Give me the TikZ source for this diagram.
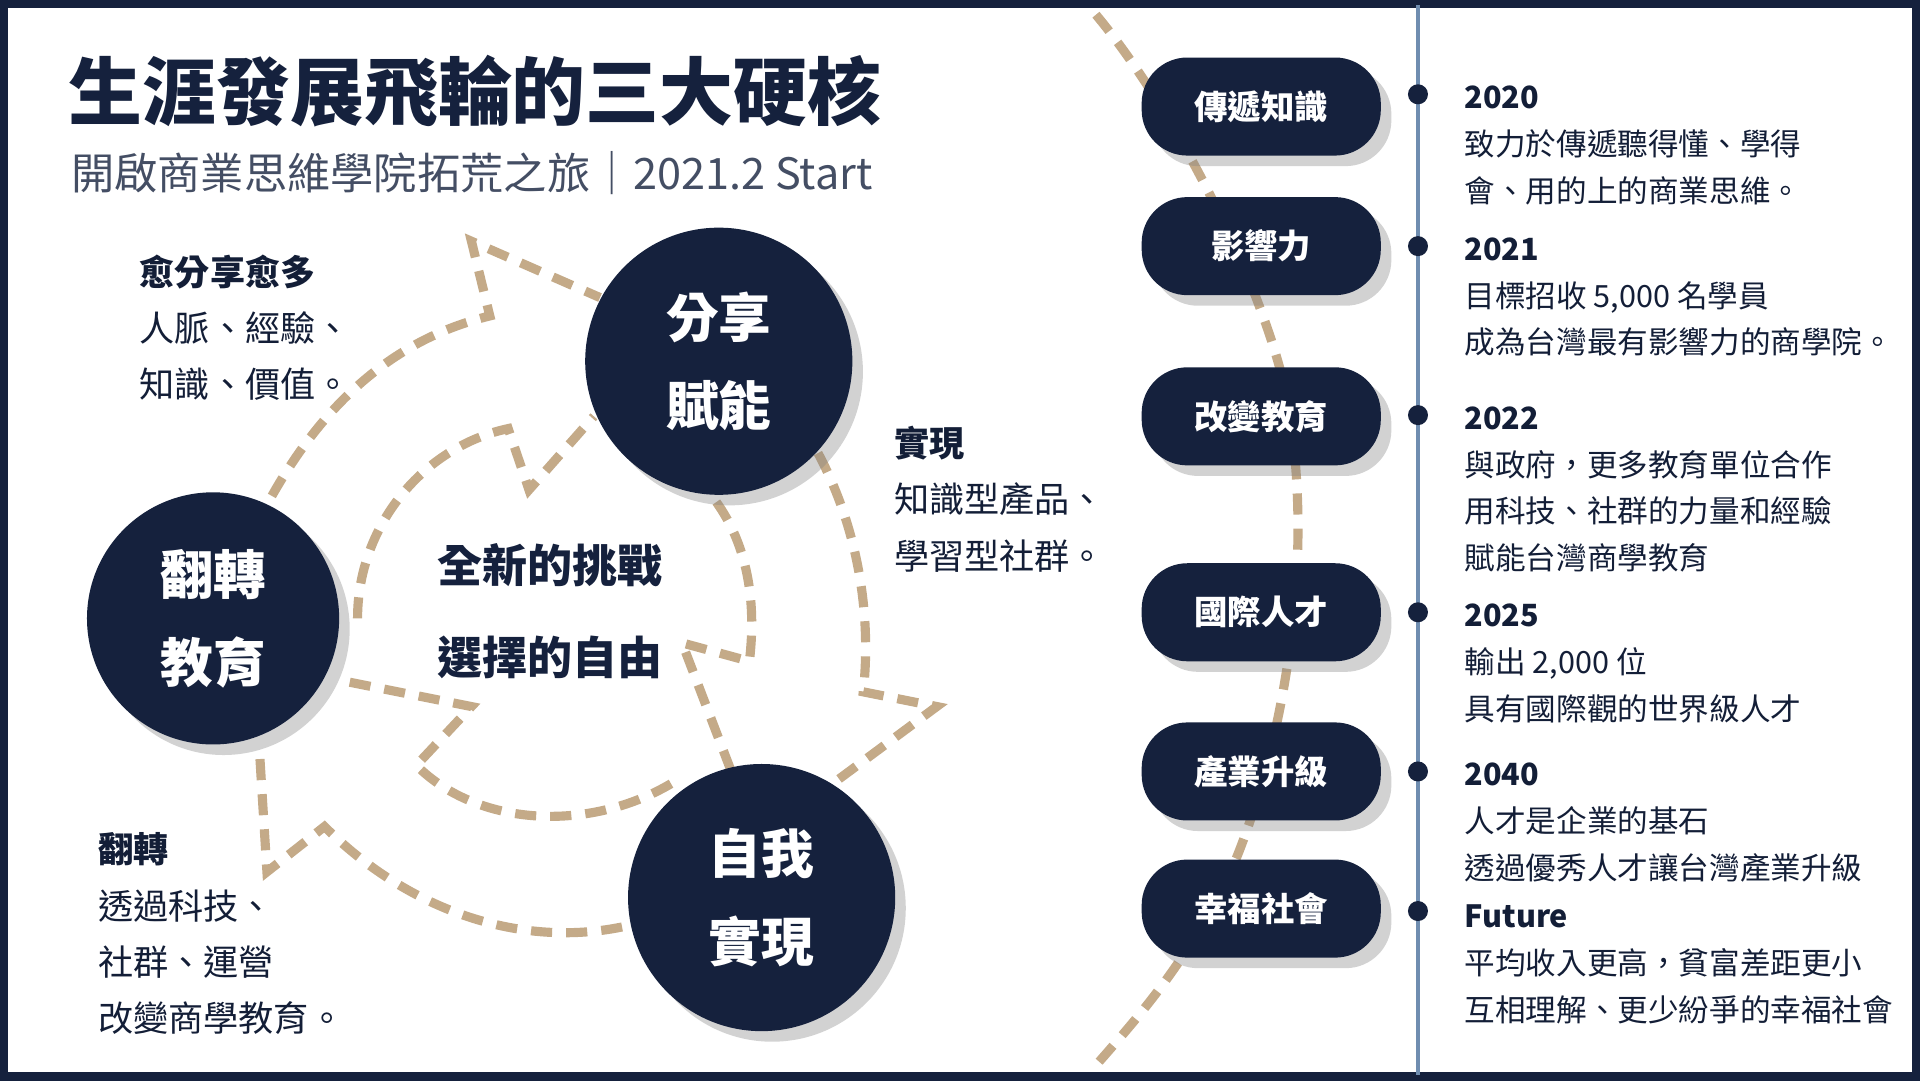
\documentclass[tikz,border=0pt]{standalone}
\usepackage{fontspec}
\setmainfont{Noto Sans CJK TC}
\usetikzlibrary{shadows}
\definecolor{navy}{HTML}{15213D}
\definecolor{tan}{HTML}{C4AA88}
\definecolor{rule}{HTML}{6F8DB0}
\begin{document}
\begin{tikzpicture}[x=0.012245cm, y=-0.012245cm,
    core/.style={circle, fill=navy, draw=none, minimum size=2.67cm, inner sep=0pt, text=white, align=center, font=\fontsize{15}{25}\selectfont\bfseries, drop shadow={opacity=0.35, shadow xshift=3pt, shadow yshift=-3pt}},
    pill/.style={rounded corners=13pt, fill=navy, minimum width=2.39cm, minimum height=0.98cm, text=white, font=\fontsize{9.5}{11}\selectfont\bfseries, drop shadow={opacity=0.35, shadow xshift=3pt, shadow yshift=-3pt}},
    dot/.style={circle, fill=navy, inner sep=0pt, minimum size=0.2cm},
    flow/.style={tan, line width=2.6pt, dash pattern=on 6pt off 4pt},
    note/.style={anchor=north west, align=left, text=navy!90!black, font=\fontsize{10}{16}\selectfont},
    yearnote/.style={anchor=north west, align=left, text=navy!90!black, font=\fontsize{8.7}{13.3}\selectfont}]

    \useasboundingbox (0,0) rectangle (1568,882);
    \fill[white] (0,0) rectangle (1568,882);
    \draw[navy, line width=3pt] (2,2) rectangle (1566,880);

    % title
    \node[anchor=west, text=navy, font=\fontsize{21}{24}\selectfont\bfseries] (title) at (46,75) {生涯發展飛輪的三大硬核};
    \node[anchor=west, text=navy!80, font=\fontsize{12.3}{14}\selectfont] (subtitle) at (48,141) {開啟商業思維學院拓荒之旅｜2021.2 Start};

    % outer flow
    \draw[flow] (222,405) .. controls (270,320) and (330,275) .. (400,258) -- (385,197) -- (490,243);
    \draw[flow] (668,370) .. controls (700,430) and (712,500) .. (705,565) -- (765,577) -- (680,640);
    \draw[flow] (508,757) .. controls (420,775) and (330,740) .. (265,675) -- (218,712) -- (212,615);
    % inner flow
    \draw[flow] (292,505) .. controls (292,430) and (345,365) .. (415,350) -- (432,400) -- (485,340);
    \draw[flow] (585,410) .. controls (610,445) and (618,490) .. (612,540) -- (557,525) -- (598,632);
    \draw[flow] (548,640) .. controls (480,680) and (390,675) .. (340,625) -- (385,577) -- (275,555);

    % cores
    \node[core] (share) at (587,295) {分享\\賦能};
    \node[core, minimum size=2.52cm] (flip) at (174,505) {翻轉\\教育};
    \node[core] (self) at (622,733) {自我\\實現};
    \node[align=left, text=navy, font=\fontsize{12.8}{26}\selectfont\bfseries] (center) at (449,499) {全新的挑戰\\選擇的自由};

    \node[note] (n1) at (104,198) {\textbf{愈分享愈多}\\人脈、經驗、\\知識、價值。};
    \node[note] (n2) at (720,338) {\textbf{實現}\\知識型產品、\\學習型社群。};
    \node[note] (n3) at (70,670) {\textbf{翻轉}\\透過科技、\\社群、運營\\改變商學教育。};

    % timeline
    \draw[flow] (895,12) .. controls (960,90) and (1030,230) .. (1050,320) .. controls (1075,450) and (1050,600) .. (1010,700) .. controls (975,780) and (930,830) .. (895,870);
    \draw[rule, line width=1pt] (1158,4) -- (1158,878);

    \foreach \y/\txt [count=\i] in {87/傳遞知識, 201/影響力, 340/改變教育, 500/國際人才, 630/產業升級, 742/幸福社會}
        \node[pill] (p\i) at (1030,\y) {\txt};

    \foreach \y [count=\i] in {77, 201, 339, 500, 630, 744}
        \node[dot] (d\i) at (1158,\y) {};

    \node[yearnote] (y1) at (1186,60) {\textbf{2020}\\致力於傳遞聽得懂、學得\\會、用的上的商業思維。};
    \node[yearnote] (y2) at (1186,184) {\textbf{2021}\\目標招收 5,000 名學員\\成為台灣最有影響力的商學院。};
    \node[yearnote] (y3) at (1186,322) {\textbf{2022}\\與政府，更多教育單位合作\\用科技、社群的力量和經驗\\賦能台灣商學教育};
    \node[yearnote] (y4) at (1186,483) {\textbf{2025}\\輸出 2,000 位\\具有國際觀的世界級人才};
    \node[yearnote] (y5) at (1186,613) {\textbf{2040}\\人才是企業的基石\\透過優秀人才讓台灣產業升級};
    \node[yearnote] (y6) at (1186,729) {\textbf{Future}\\平均收入更高，貧富差距更小\\互相理解、更少紛爭的幸福社會};
\end{tikzpicture}
\end{document}
